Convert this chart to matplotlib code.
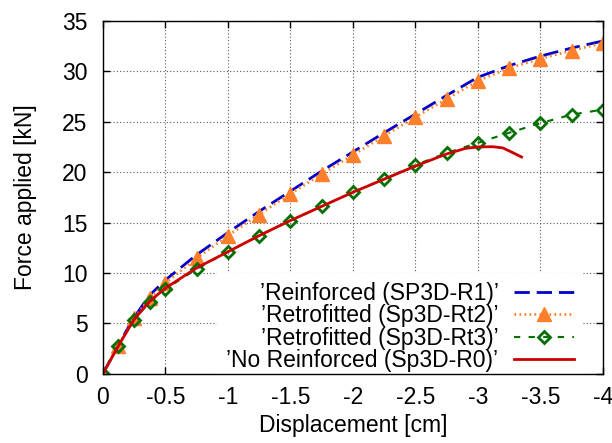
import matplotlib
matplotlib.use("Agg")
import matplotlib.pyplot as plt
from matplotlib.ticker import FuncFormatter, MultipleLocator

plt.rcParams["font.family"] = ["Liberation Sans", "DejaVu Sans"]
plt.rcParams["axes.unicode_minus"] = False

disp = [0, -0.125, -0.25, -0.375, -0.5, -0.75, -1.0, -1.25, -1.5, -1.75,
        -2.0, -2.25, -2.5, -2.75, -3.0, -3.25, -3.5, -3.75, -4.0]

r1 = [0, 2.9, 5.6, 7.8, 9.3, 11.8, 14.0, 16.1, 18.1, 20.1,
      22.0, 23.9, 25.75, 27.6, 29.4, 30.55, 31.5, 32.3, 33.0]
rt2 = [0, 2.8, 5.5, 7.5, 9.0, 11.45, 13.7, 15.8, 17.85, 19.8,
       21.7, 23.6, 25.45, 27.25, 29.05, 30.3, 31.25, 32.05, 32.8]
rt3 = [0, 2.8, 5.35, 7.15, 8.4, 10.4, 12.1, 13.7, 15.2, 16.6,
       18.0, 19.3, 20.7, 21.9, 22.9, 23.9, 24.85, 25.7, 26.2]

disp_r0 = [0, -0.125, -0.25, -0.375, -0.5, -0.75, -1.0, -1.25, -1.5, -1.75,
           -2.0, -2.25, -2.5, -2.75, -2.9, -3.0, -3.12, -3.2, -3.26, -3.35]
r0 = [0, 2.8, 5.4, 7.2, 8.5, 10.5, 12.1, 13.7, 15.2, 16.6,
      18.0, 19.3, 20.6, 21.8, 22.35, 22.5, 22.52, 22.4, 22.05, 21.5]

labels = ["\u2019Reinforced (SP3D-R1)\u2019",
          "\u2019Retrofitted (Sp3D-Rt2)\u2019",
          "\u2019Retrofitted (Sp3D-Rt3)\u2019",
          "\u2019No Reinforced (Sp3D-R0)\u2019"]

fs = 16.5

fig = plt.figure(figsize=(6.12, 4.43), dpi=100)
ax = fig.add_axes([0.168, 0.156, 0.817, 0.797])

ax.plot(disp, r1, color="#0000cc", lw=2, ls=(0, (5.5, 2.5)), label=labels[0])
ax.plot(disp, rt2, color="#ff7f2a", lw=2, ls=(0, (0.6, 1.2)), marker="^",
        ms=10, mfc="#ff7f2a", mec="#ff7f2a", label=labels[1])
ax.plot(disp, rt3, color="#007000", lw=1.5, ls=(0, (3, 4)), marker="D",
        ms=6, mfc="none", mec="#007000", mew=2, label=labels[2])
ax.plot(disp_r0, r0, color="#cc0000", lw=2, label=labels[3])

ax.set_xlim(0, -4)
ax.set_ylim(0, 35)
ax.xaxis.set_major_locator(MultipleLocator(0.5))
ax.yaxis.set_major_locator(MultipleLocator(5))
ax.xaxis.set_major_formatter(FuncFormatter(lambda v, p: f"{v:g}"))
ax.tick_params(direction="in", length=5, width=1, top=True, right=True,
               labelsize=fs, pad=11)
ax.tick_params(axis="x", pad=9)
ax.grid(True, color="0.35", lw=0.8, ls=(0, (1, 2)))
ax.set_axisbelow(True)
for s in ax.spines.values():
    s.set_linewidth(1)

ax.set_xlabel("Displacement [cm]", fontsize=fs, labelpad=3)
ax.set_ylabel("Force applied [kN]", fontsize=fs, labelpad=18)

leg = ax.legend(loc="lower right", frameon=True, fancybox=False,
                facecolor="white", edgecolor="none", framealpha=1,
                markerfirst=False, fontsize=fs,
                handlelength=2.6, handletextpad=0.7, labelspacing=-0.02,
                borderaxespad=0.2, bbox_to_anchor=(0.97, -0.035))
leg.set_zorder(1.5)

fig.savefig("out.png", dpi=100)
